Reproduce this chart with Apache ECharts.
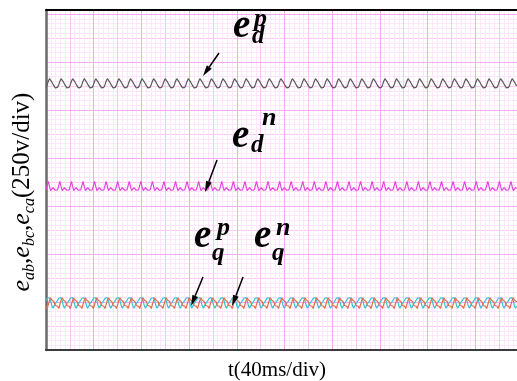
<!DOCTYPE html>
<html>
<head>
<meta charset="utf-8">
<script src="https://cdn.jsdelivr.net/npm/echarts@6/dist/echarts.min.js"></script>
<style>
  html, body { margin: 0; padding: 0; background: #fff; }
  #chart { width: 517px; height: 381px; }
</style>
</head>
<body>
<div id="chart"></div>
<script>
// Scope settings: 40 ms per horizontal division, 250 V per vertical division
const timeSpan = [0, 395];          // ms shown across the screen
const voltSpan = [0, 1770.8];       // V shown up the screen
const divTime = 40;
const divVolt = 250;

// Trace names and their dc levels (V)
const traceNames = ['e_d^p', 'e_d^n', 'e_q^p', 'e_q^n'];
const traceLevels = [1390, 848, 246, 244];
const traceColors = ['#5a5a5a', '#e445e0', '#38c2d2', '#e0704c'];

// Ripple period (ms) and one period of each trace's ripple, in V about its level
const ripplePeriod = 9.7;
const rippleEdp = [-22, -8, 10, 23, 18, 6, -5, -15, -25, -27];
const rippleEdn = [-14, -6, 30, 4, -18, -9, -2, -7, -16, -12];
const rippleEqp = [12, 24, 20, 26, 10, -16, -28, -19, -5, 5];
const rippleEqn = [-16, -28, -7, 14, 28, 16, 25, 7, -12, -21];
const ripples = [rippleEdp, rippleEdn, rippleEqp, rippleEqn];

// Steady-state trace: the ripple period repeated over the time span
function trace(level, ripple) {
  const n = ripple.length, dt = ripplePeriod / n, pts = [];
  for (let i = 0; i * dt <= timeSpan[1]; i++) {
    pts.push([+(i * dt).toFixed(3), level + ripple[i % n]]);
  }
  return pts;
}

const hidden = { axisTick: { show: false }, axisLabel: { show: false } };
function xGrid(interval, color, position, extra) {
  return Object.assign({
    type: 'value', min: timeSpan[0], max: timeSpan[1], interval: interval, position: position,
    axisLine: { show: false },
    splitLine: { show: !!color, lineStyle: { color: color || '#000', width: 1 } }
  }, hidden, extra || {});
}
function yGrid(interval, color, position, extra) {
  return Object.assign({
    type: 'value', min: voltSpan[0], max: voltSpan[1], interval: interval, position: position,
    axisLine: { show: false },
    splitLine: { show: !!color, lineStyle: { color: color || '#000', width: 1 } }
  }, hidden, extra || {});
}

// Arrow pointing at a trace: shaft plus filled head
function arrow(x1, y1, x2, y2) {
  const a = Math.atan2(y2 - y1, x2 - x1), L = 11, W = 3;
  const bx = x2 - L * Math.cos(a), by = y2 - L * Math.sin(a);
  const px = -Math.sin(a) * W, py = Math.cos(a) * W;
  return [
    { type: 'line', shape: { x1: x1, y1: y1, x2: bx, y2: by }, style: { stroke: '#000', lineWidth: 1.5 }, z: 10 },
    { type: 'polygon', shape: { points: [[x2, y2], [bx + px, by + py], [bx - px, by - py]] }, style: { fill: '#000' }, z: 10 }
  ];
}

const serif = '"Liberation Serif", "Times New Roman", serif';
function glyph(text, x, y, size) {
  return { type: 'text', z: 10, style: { text: text, x: x, y: y, fill: '#000', font: 'italic bold ' + size + 'px ' + serif, textAlign: 'left', textVerticalAlign: 'bottom' } };
}

const graphics = [].concat(
  // e_d^p
  glyph('e', 233, 46, 39), glyph('d', 252, 49, 25), glyph('p', 254, 32, 26),
  // e_d^n
  glyph('e', 232, 156, 39), glyph('d', 251, 158, 25), glyph('n', 262, 131, 26),
  // e_q^p
  glyph('e', 194, 256, 39), glyph('q', 212, 266, 25), glyph('p', 217, 241, 26),
  // e_q^n
  glyph('e', 254, 256, 39), glyph('q', 272, 266, 25), glyph('n', 276, 241, 26),
  arrow(219, 53, 203, 76),
  arrow(217, 160, 205, 192),
  arrow(203, 277, 191, 306),
  arrow(243, 277, 232, 306),
  [
    {
      type: 'text', z: 10, x: 22, y: 192, rotation: Math.PI / 2,
      style: {
        text: '{e|e}{s|ab}{c|,}{e|e}{s|bc}{c|,}{e|e}{s|ca}{c|(250v/div)}',
        textAlign: 'center', textVerticalAlign: 'middle', fill: '#000',
        rich: {
          e: { fontFamily: serif, fontStyle: 'italic', fontSize: 26, lineHeight: 32 },
          s: { fontFamily: serif, fontStyle: 'italic', fontSize: 16, lineHeight: 16, verticalAlign: 'bottom' },
          c: { fontFamily: serif, fontSize: 25, lineHeight: 32 }
        }
      }
    },
    {
      type: 'text', z: 10, x: 277, y: 370,
      style: { text: 't(40ms/div)', font: '21px ' + serif, fill: '#000', textAlign: 'center', textVerticalAlign: 'middle' }
    }
  ]
);

const chart = echarts.init(document.getElementById('chart'), null, { renderer: 'canvas' });
chart.setOption({
  animation: false,
  backgroundColor: '#ffffff',
  grid: { left: 46, top: 10, right: 0, bottom: 31 },
  xAxis: [
    xGrid(divTime / 10, '#fde8fb', 'bottom'),
    xGrid(divTime / 2, '#fac6f5', 'top'),
    xGrid(divTime, '#f6a8ee', 'bottom', { z: 3, axisLine: { show: true, lineStyle: { color: '#3a3a3a', width: 2 } } }),
    xGrid(divTime, null, 'top', { z: 3, axisLine: { show: true, lineStyle: { color: '#000', width: 2 } } })
  ],
  yAxis: [
    yGrid(divVolt / 10, '#fde8fb', 'left'),
    yGrid(divVolt / 2, '#fac6f5', 'right'),
    yGrid(divVolt, '#f6a8ee', 'left', { z: 3, axisLine: { show: true, lineStyle: { color: '#6a6a6a', width: 2.5 } } })
  ],
  series: traceNames.map((name, k) => ({
    name: name, type: 'line', xAxisIndex: 2, yAxisIndex: 2,
    data: trace(traceLevels[k], ripples[k]),
    showSymbol: false, symbol: 'none',
    lineStyle: { color: traceColors[k], width: 1.2 },
    z: 5
  })),
  graphic: graphics
});
</script>
</body>
</html>
